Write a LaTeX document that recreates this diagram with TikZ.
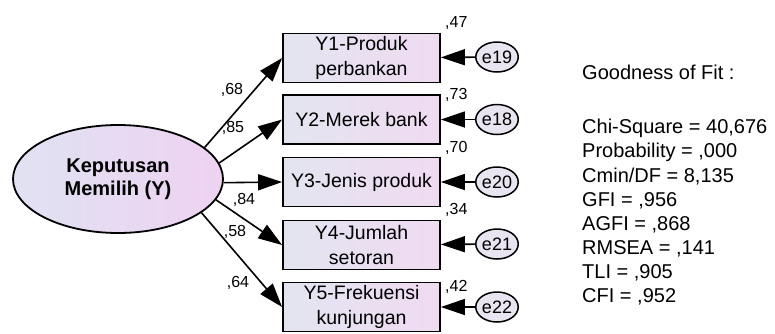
\documentclass[tikz,border=0pt]{standalone}
\usepackage{fontspec}
\setmainfont{Liberation Sans}
\usetikzlibrary{shapes.geometric,arrows.meta}
\definecolor{boxL}{HTML}{E2E5F0}
\definecolor{boxR}{HTML}{F0DAF2}
\definecolor{ellL}{HTML}{E0E2F2}
\definecolor{ellR}{HTML}{EED2F2}
\definecolor{errfill}{HTML}{E8E4F0}
\begin{document}
\begin{tikzpicture}[x=1pt,y=-1pt,
  obs/.style={rectangle,draw=black,line width=1.8pt,left color=boxL,right color=boxR,
    minimum width=157pt,minimum height=49pt,inner sep=0pt,align=center,
    font=\fontsize{19.5}{25}\selectfont},
  lat/.style={ellipse,draw=black,line width=1.8pt,left color=ellL,right color=ellR,
    minimum width=210pt,minimum height=108pt,inner sep=0pt,align=center,
    font=\bfseries\fontsize{20}{23}\selectfont},
  err/.style={ellipse,draw=black,line width=1.5pt,fill=errfill,
    minimum width=36pt,minimum height=30pt,inner sep=0pt,
    font=\fontsize{18}{18}\selectfont},
  ldarrow/.style={line width=1.6pt,-{Triangle[length=24pt,width=16pt]}},
  lbl/.style={inner sep=0pt,font=\fontsize{16}{16}\selectfont},
  fittext/.style={anchor=west,inner sep=0pt,font=\fontsize{20}{20}\selectfont}]
\useasboundingbox (0,0) rectangle (775,333);

\node[lat] (ell) at (118,179) {Keputusan\\Memilih (Y)};

\node[obs] (b1) at (361.5,58)  {Y1-Produk\\perbankan};
\node[obs] (b2) at (361.5,119.5) {Y2-Merek bank};
\node[obs] (b3) at (361.5,182) {Y3-Jenis produk};
\node[obs] (b4) at (361.5,245) {Y4-Jumlah\\setoran};
\node[obs] (b5) at (361.5,307) {Y5-Frekuensi\\kunjungan};

\node[err] (e1) at (497,57)  {e19};
\node[err] (e2) at (497,119.5) {e18};
\node[err] (e3) at (497,182) {e20};
\node[err] (e4) at (497,244) {e21};
\node[err] (e5) at (497,307) {e22};

\draw[ldarrow] (ell.20)  -- (b1.west);
\draw[ldarrow] (ell.9)   -- (b2.west);
\draw[ldarrow] (ell.-2)  -- (b3.west);
\draw[ldarrow] (ell.-12) -- (b4.west);
\draw[ldarrow] (ell.-22) -- (b5.west);
\foreach \i in {1,...,5}{
  \draw[ldarrow] (e\i) -- (b\i);
}

\node[lbl] (l1) at (232,90)  {,68};
\node[lbl] (l2) at (233,128) {,85};
\node[lbl] (l3) at (244,200) {,84};
\node[lbl] (l4) at (235,232) {,58};
\node[lbl] (l5) at (238,283) {,64};

\node[lbl,anchor=west] (r1) at (445,23)  {,47};
\node[lbl,anchor=west] (r2) at (445,95)  {,73};
\node[lbl,anchor=west] (r3) at (445,148) {,70};
\node[lbl,anchor=west] (r4) at (445,210) {,34};
\node[lbl,anchor=west] (r5) at (445,287) {,42};

\node[fittext] (gof) at (582,72) {Goodness of Fit :};
\foreach \t [count=\i] in {{Chi-Square = 40,676},{Probability = ,000},{Cmin/DF = 8,135},
  {GFI = ,956},{AGFI = ,868},{RMSEA = ,141},{TLI = ,905},{CFI = ,952}}{
  \node[fittext] (fit\i) at (582,{128+(\i-1)*24.1}) {\t};
}
\end{tikzpicture}
\end{document}
